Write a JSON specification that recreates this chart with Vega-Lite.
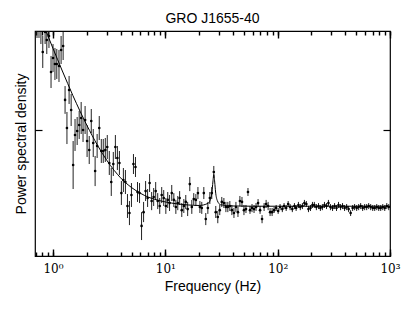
{
"$schema": "https://vega.github.io/schema/vega-lite/v6.json",
"width": 355, "height": 225,
"autosize": "none",
"padding": {"left": 35, "top": 31, "right": 25, "bottom": 56},
"background": "white",
"config": {"view": {"stroke": "black", "strokeWidth": 1.2}},
"title": {"text": "GRO J1655-40", "font": "Liberation Sans", "fontSize": 14, "fontWeight": "normal", "color": "black", "offset": 4, "anchor": "middle"},
"datasets": {
"pts": [
{"f":0.72,"p":13.18,"lo":8.32,"hi":20.89},
{"f":0.75,"p":10.96,"lo":8.32,"hi":14.45},
{"f":0.78,"p":10.0,"lo":7.24,"hi":13.8},
{"f":0.81,"p":6.03,"lo":4.17,"hi":8.71},
{"f":0.85,"p":9.55,"lo":7.24,"hi":12.6},
{"f":0.88,"p":7.94,"lo":5.75,"hi":10.96},
{"f":0.92,"p":8.71,"lo":6.61,"hi":11.5},
{"f":0.96,"p":3.80,"lo":2.63,"hi":5.50},
{"f":1.00,"p":5.25,"lo":3.80,"hi":7.24},
{"f":1.04,"p":4.57,"lo":3.16,"hi":6.61},
{"f":1.08,"p":4.57,"lo":3.24,"hi":6.46},
{"f":1.13,"p":4.37,"lo":3.02,"hi":6.31},
{"f":1.18,"p":6.31,"lo":4.57,"hi":8.71},
{"f":1.23,"p":6.92,"lo":5.01,"hi":9.55},
{"f":1.28,"p":2.00,"lo":1.45,"hi":2.75},
{"f":1.33,"p":1.047,"lo":0.724,"hi":1.514},
{"f":1.39,"p":2.51,"lo":1.82,"hi":3.47},
{"f":1.45,"p":1.585,"lo":1.096,"hi":2.29},
{"f":1.51,"p":0.447,"lo":0.257,"hi":0.776},
{"f":1.57,"p":0.891,"lo":0.617,"hi":1.288},
{"f":1.64,"p":0.977,"lo":0.708,"hi":1.349},
{"f":1.71,"p":1.122,"lo":0.813,"hi":1.549},
{"f":1.78,"p":1.318,"lo":0.912,"hi":1.905},
{"f":1.85,"p":1.0,"lo":0.759,"hi":1.318},
{"f":1.93,"p":1.259,"lo":0.912,"hi":1.738},
{"f":2.01,"p":0.776,"lo":0.537,"hi":1.122},
{"f":2.10,"p":0.631,"lo":0.457,"hi":0.871},
{"f":2.19,"p":1.23,"lo":0.933,"hi":1.622},
{"f":2.28,"p":0.741,"lo":0.537,"hi":1.023},
{"f":2.37,"p":0.389,"lo":0.275,"hi":0.550},
{"f":2.47,"p":0.692,"lo":0.525,"hi":0.912},
{"f":2.58,"p":1.047,"lo":0.794,"hi":1.380},
{"f":2.69,"p":0.617,"lo":0.468,"hi":0.813},
{"f":2.80,"p":0.617,"lo":0.468,"hi":0.813},
{"f":2.92,"p":0.631,"lo":0.479,"hi":0.832},
{"f":3.04,"p":0.676,"lo":0.513,"hi":0.891},
{"f":3.17,"p":0.468,"lo":0.355,"hi":0.617},
{"f":3.30,"p":0.302,"lo":0.219,"hi":0.417},
{"f":3.44,"p":0.457,"lo":0.347,"hi":0.603},
{"f":3.59,"p":0.676,"lo":0.513,"hi":0.891},
{"f":3.74,"p":0.525,"lo":0.398,"hi":0.692},
{"f":3.90,"p":0.468,"lo":0.355,"hi":0.617},
{"f":4.06,"p":0.234,"lo":0.178,"hi":0.309},
{"f":4.23,"p":0.316,"lo":0.240,"hi":0.417},
{"f":4.41,"p":0.302,"lo":0.229,"hi":0.398},
{"f":4.60,"p":0.174,"lo":0.132,"hi":0.229},
{"f":4.79,"p":0.148,"lo":0.112,"hi":0.195},
{"f":4.99,"p":0.224,"lo":0.170,"hi":0.295},
{"f":5.20,"p":0.457,"lo":0.363,"hi":0.575},
{"f":5.42,"p":0.427,"lo":0.339,"hi":0.537},
{"f":5.65,"p":0.240,"lo":0.191,"hi":0.302},
{"f":5.89,"p":0.234,"lo":0.186,"hi":0.295},
{"f":6.14,"p":0.110,"lo":0.0794,"hi":0.151},
{"f":6.40,"p":0.151,"lo":0.120,"hi":0.191},
{"f":6.67,"p":0.245,"lo":0.195,"hi":0.309},
{"f":6.95,"p":0.209,"lo":0.170,"hi":0.257},
{"f":7.24,"p":0.295,"lo":0.240,"hi":0.363},
{"f":7.55,"p":0.195,"lo":0.158,"hi":0.240},
{"f":7.87,"p":0.214,"lo":0.174,"hi":0.263},
{"f":8.20,"p":0.245,"lo":0.200,"hi":0.302},
{"f":8.55,"p":0.195,"lo":0.162,"hi":0.234},
{"f":8.91,"p":0.174,"lo":0.145,"hi":0.209},
{"f":9.28,"p":0.224,"lo":0.186,"hi":0.269},
{"f":9.67,"p":0.209,"lo":0.174,"hi":0.251},
{"f":10.1,"p":0.174,"lo":0.145,"hi":0.209},
{"f":10.5,"p":0.200,"lo":0.166,"hi":0.240},
{"f":10.9,"p":0.186,"lo":0.155,"hi":0.224},
{"f":11.4,"p":0.234,"lo":0.195,"hi":0.282},
{"f":11.9,"p":0.200,"lo":0.170,"hi":0.234},
{"f":12.4,"p":0.170,"lo":0.145,"hi":0.200},
{"f":12.9,"p":0.186,"lo":0.158,"hi":0.219},
{"f":13.4,"p":0.209,"lo":0.178,"hi":0.245},
{"f":14.0,"p":0.158,"lo":0.135,"hi":0.186},
{"f":14.6,"p":0.174,"lo":0.148,"hi":0.204},
{"f":15.2,"p":0.191,"lo":0.162,"hi":0.224},
{"f":15.8,"p":0.162,"lo":0.138,"hi":0.191},
{"f":16.5,"p":0.288,"lo":0.245,"hi":0.339},
{"f":17.2,"p":0.170,"lo":0.145,"hi":0.200},
{"f":17.9,"p":0.204,"lo":0.178,"hi":0.234},
{"f":18.7,"p":0.200,"lo":0.174,"hi":0.229},
{"f":19.5,"p":0.234,"lo":0.204,"hi":0.269},
{"f":20.3,"p":0.170,"lo":0.148,"hi":0.195},
{"f":21.1,"p":0.166,"lo":0.145,"hi":0.191},
{"f":22.0,"p":0.234,"lo":0.204,"hi":0.269},
{"f":22.9,"p":0.129,"lo":0.112,"hi":0.148},
{"f":23.9,"p":0.166,"lo":0.145,"hi":0.191},
{"f":24.9,"p":0.209,"lo":0.182,"hi":0.240},
{"f":25.9,"p":0.234,"lo":0.204,"hi":0.269},
{"f":27.0,"p":0.380,"lo":0.331,"hi":0.437},
{"f":28.1,"p":0.151,"lo":0.132,"hi":0.174},
{"f":29.3,"p":0.135,"lo":0.117,"hi":0.155},
{"f":30.5,"p":0.158,"lo":0.141,"hi":0.178},
{"f":31.8,"p":0.191,"lo":0.170,"hi":0.214},
{"f":33.2,"p":0.186,"lo":0.166,"hi":0.209},
{"f":34.6,"p":0.170,"lo":0.151,"hi":0.191},
{"f":36.0,"p":0.170,"lo":0.151,"hi":0.191},
{"f":37.5,"p":0.174,"lo":0.155,"hi":0.195},
{"f":39.1,"p":0.158,"lo":0.141,"hi":0.178},
{"f":40.8,"p":0.148,"lo":0.132,"hi":0.166},
{"f":42.5,"p":0.170,"lo":0.151,"hi":0.191},
{"f":44.3,"p":0.151,"lo":0.135,"hi":0.170},
{"f":46.1,"p":0.195,"lo":0.174,"hi":0.219},
{"f":48.1,"p":0.191,"lo":0.170,"hi":0.214},
{"f":50.1,"p":0.158,"lo":0.141,"hi":0.178},
{"f":52.2,"p":0.162,"lo":0.148,"hi":0.178},
{"f":54.4,"p":0.240,"lo":0.219,"hi":0.263},
{"f":56.7,"p":0.158,"lo":0.145,"hi":0.174},
{"f":59.1,"p":0.166,"lo":0.151,"hi":0.182},
{"f":61.6,"p":0.162,"lo":0.148,"hi":0.178},
{"f":64.2,"p":0.170,"lo":0.155,"hi":0.186},
{"f":66.9,"p":0.186,"lo":0.170,"hi":0.204},
{"f":69.7,"p":0.158,"lo":0.145,"hi":0.174},
{"f":72.6,"p":0.129,"lo":0.117,"hi":0.141},
{"f":75.7,"p":0.170,"lo":0.155,"hi":0.186},
{"f":78.9,"p":0.182,"lo":0.166,"hi":0.200},
{"f":82.2,"p":0.174,"lo":0.158,"hi":0.191},
{"f":85.6,"p":0.151,"lo":0.138,"hi":0.166},
{"f":89.2,"p":0.151,"lo":0.138,"hi":0.166},
{"f":93.0,"p":0.158,"lo":0.148,"hi":0.170},
{"f":96.9,"p":0.166,"lo":0.155,"hi":0.178},
{"f":101,"p":0.155,"lo":0.145,"hi":0.166},
{"f":105,"p":0.170,"lo":0.158,"hi":0.182},
{"f":110,"p":0.162,"lo":0.151,"hi":0.174},
{"f":114,"p":0.174,"lo":0.162,"hi":0.186},
{"f":119,"p":0.166,"lo":0.155,"hi":0.178},
{"f":124,"p":0.182,"lo":0.170,"hi":0.195},
{"f":129,"p":0.170,"lo":0.158,"hi":0.182},
{"f":135,"p":0.162,"lo":0.151,"hi":0.174},
{"f":141,"p":0.174,"lo":0.162,"hi":0.186},
{"f":146,"p":0.166,"lo":0.155,"hi":0.178},
{"f":153,"p":0.178,"lo":0.166,"hi":0.191},
{"f":159,"p":0.170,"lo":0.158,"hi":0.182},
{"f":166,"p":0.174,"lo":0.162,"hi":0.186},
{"f":173,"p":0.186,"lo":0.174,"hi":0.200},
{"f":180,"p":0.182,"lo":0.170,"hi":0.195},
{"f":188,"p":0.162,"lo":0.151,"hi":0.174},
{"f":196,"p":0.166,"lo":0.155,"hi":0.178},
{"f":204,"p":0.178,"lo":0.166,"hi":0.191},
{"f":212,"p":0.178,"lo":0.166,"hi":0.191},
{"f":221,"p":0.170,"lo":0.158,"hi":0.182},
{"f":231,"p":0.174,"lo":0.162,"hi":0.186},
{"f":240,"p":0.166,"lo":0.155,"hi":0.178},
{"f":250,"p":0.170,"lo":0.158,"hi":0.182},
{"f":261,"p":0.178,"lo":0.166,"hi":0.191},
{"f":272,"p":0.174,"lo":0.162,"hi":0.186},
{"f":283,"p":0.186,"lo":0.174,"hi":0.200},
{"f":295,"p":0.170,"lo":0.158,"hi":0.182},
{"f":308,"p":0.166,"lo":0.155,"hi":0.178},
{"f":321,"p":0.174,"lo":0.162,"hi":0.186},
{"f":334,"p":0.166,"lo":0.155,"hi":0.178},
{"f":348,"p":0.178,"lo":0.166,"hi":0.191},
{"f":363,"p":0.170,"lo":0.158,"hi":0.182},
{"f":378,"p":0.174,"lo":0.162,"hi":0.186},
{"f":394,"p":0.166,"lo":0.155,"hi":0.178},
{"f":411,"p":0.170,"lo":0.158,"hi":0.182},
{"f":428,"p":0.162,"lo":0.151,"hi":0.174},
{"f":446,"p":0.148,"lo":0.138,"hi":0.158},
{"f":465,"p":0.166,"lo":0.155,"hi":0.178},
{"f":484,"p":0.170,"lo":0.158,"hi":0.182},
{"f":505,"p":0.166,"lo":0.155,"hi":0.178},
{"f":526,"p":0.170,"lo":0.158,"hi":0.182},
{"f":548,"p":0.174,"lo":0.162,"hi":0.186},
{"f":571,"p":0.166,"lo":0.155,"hi":0.178},
{"f":595,"p":0.170,"lo":0.158,"hi":0.182},
{"f":620,"p":0.170,"lo":0.158,"hi":0.182},
{"f":646,"p":0.174,"lo":0.162,"hi":0.186},
{"f":673,"p":0.170,"lo":0.158,"hi":0.182},
{"f":702,"p":0.166,"lo":0.155,"hi":0.178},
{"f":731,"p":0.166,"lo":0.155,"hi":0.178},
{"f":762,"p":0.170,"lo":0.158,"hi":0.182},
{"f":794,"p":0.166,"lo":0.155,"hi":0.178},
{"f":827,"p":0.166,"lo":0.155,"hi":0.178},
{"f":862,"p":0.170,"lo":0.158,"hi":0.182},
{"f":898,"p":0.166,"lo":0.155,"hi":0.178},
{"f":936,"p":0.174,"lo":0.162,"hi":0.186},
{"f":975,"p":0.170,"lo":0.158,"hi":0.182}
],
"model": [
{"f":0.8,"p":12.16},{"f":0.9,"p":8.75},{"f":1.0,"p":6.53},{"f":1.1,"p":5.04},{"f":1.2,"p":3.98},
{"f":1.35,"p":2.92},{"f":1.5,"p":2.22},{"f":1.75,"p":1.52},{"f":2,"p":1.117},{"f":2.5,"p":0.697},
{"f":3,"p":0.501},{"f":3.5,"p":0.395},{"f":4,"p":0.332},{"f":5,"p":0.266},{"f":6,"p":0.233},
{"f":7,"p":0.214},{"f":8,"p":0.203},{"f":10,"p":0.191},{"f":13,"p":0.182},{"f":16,"p":0.178},
{"f":20,"p":0.176},{"f":24,"p":0.185},{"f":25,"p":0.197},{"f":26,"p":0.240},{"f":26.5,"p":0.302},
{"f":27,"p":0.358},{"f":27.5,"p":0.302},{"f":28,"p":0.240},{"f":29,"p":0.197},{"f":31,"p":0.179},
{"f":40,"p":0.174},{"f":60,"p":0.173},{"f":100,"p":0.173},{"f":300,"p":0.173},{"f":1000,"p":0.173}
]
},
"layer": [
{"data": {"name": "pts"},
 "mark": {"type": "rule", "clip": true, "color": "#222222", "strokeWidth": 1},
 "encoding": {
  "x": {"field": "f", "type": "quantitative",
   "scale": {"type": "log", "domain": [0.691, 1000], "nice": false},
   "axis": {"orient": "bottom", "grid": false, "domain": false,
    "values": [0.7,0.8,0.9,1,2,3,4,5,6,7,8,9,10,20,30,40,50,60,70,80,90,100,200,300,400,500,600,700,800,900,1000],
    "labelExpr": "datum.value == 1 ? '10⁰' : datum.value == 10 ? '10¹' : datum.value == 100 ? '10²' : datum.value == 1000 ? '10³' : ''",
    "tickSize": -4, "tickColor": "black", "tickWidth": 1.4,
    "labelFont": "DejaVu Serif", "labelFontSize": 12, "labelColor": "black", "labelPadding": 11, "labelFlush": false, "labelOverlap": false,
    "title": "Frequency (Hz)", "titleFont": "Liberation Sans", "titleFontSize": 14, "titleFontWeight": "normal", "titleColor": "black", "titlePadding": 5}},
  "y": {"field": "lo", "type": "quantitative",
   "scale": {"type": "log", "domain": [0.055, 9.77], "nice": false},
   "axis": {"orient": "left", "grid": false, "domain": false, "values": [1], "labels": false,
    "tickSize": -7, "tickColor": "black", "tickWidth": 1.2,
    "title": "Power spectral density", "titleFont": "Liberation Sans", "titleFontSize": 14, "titleFontWeight": "normal", "titleColor": "black", "titlePadding": 6}},
  "y2": {"field": "hi"}
 }},
{"data": {"name": "pts"},
 "mark": {"type": "point", "clip": true, "filled": true, "size": 7, "color": "black", "opacity": 1},
 "encoding": {
  "x": {"field": "f", "type": "quantitative", "scale": {"type": "log", "domain": [0.691, 1000], "nice": false},
   "axis": {"orient": "bottom", "grid": false, "domain": false, "labels": false, "title": null,
    "values": [1, 10, 100, 1000], "tickSize": -7, "tickColor": "black", "tickWidth": 1.4}},
  "y": {"field": "p", "type": "quantitative", "scale": {"type": "log", "domain": [0.055, 9.77], "nice": false}, "axis": null}
 }},
{"data": {"name": "model"},
 "mark": {"type": "line", "clip": true, "color": "black", "strokeWidth": 1, "interpolate": "monotone"},
 "encoding": {
  "x": {"field": "f", "type": "quantitative", "scale": {"type": "log", "domain": [0.691, 1000], "nice": false},
   "axis": {"orient": "top", "grid": false, "domain": false, "labels": false, "title": null,
    "values": [0.7,0.8,0.9,1,2,3,4,5,6,7,8,9,10,20,30,40,50,60,70,80,90,100,200,300,400,500,600,700,800,900,1000],
    "tickSize": -4, "tickColor": "black", "tickWidth": 1.4}},
  "y": {"field": "p", "type": "quantitative", "scale": {"type": "log", "domain": [0.055, 9.77], "nice": false},
   "axis": {"orient": "right", "grid": false, "domain": false, "labels": false, "title": null, "values": [1],
    "tickSize": -7, "tickColor": "black", "tickWidth": 1.2}}
 }},
{"data": {"name": "model"},
 "mark": {"type": "line", "clip": true, "color": "black", "strokeWidth": 1, "opacity": 0},
 "encoding": {
  "x": {"field": "f", "type": "quantitative", "scale": {"type": "log", "domain": [0.691, 1000], "nice": false},
   "axis": {"orient": "top", "grid": false, "domain": false, "labels": false, "title": null,
    "values": [1, 10, 100, 1000], "tickSize": -7, "tickColor": "black", "tickWidth": 1.4}},
  "y": {"field": "p", "type": "quantitative", "scale": {"type": "log", "domain": [0.055, 9.77], "nice": false}, "axis": null}
 }}
],
"resolve": {"axis": {"x": "independent", "y": "independent"}}
}
